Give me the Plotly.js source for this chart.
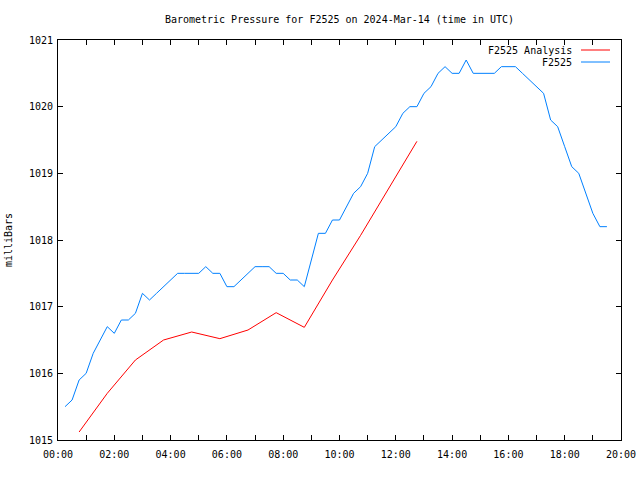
<!DOCTYPE html>
<html>
<head>
<meta charset="utf-8">
<script src="https://cdn.plot.ly/plotly-3.0.1.min.js"></script>
<style>html,body{margin:0;padding:0;background:#fff;}#chart{width:640px;height:480px;}</style>
</head>
<body>
<div id="chart"></div>
<script>
// Hours (UTC) for the F2525 observations, 15-minute steps
const obsHours = [0.25,0.5,0.75,1,1.25,1.5,1.75,2,2.25,2.5,2.75,3,3.25,3.5,3.75,4,4.25,4.5,4.75,5,5.25,5.5,5.75,6,6.25,6.5,6.75,7,7.25,7.5,7.75,8,8.25,8.5,8.75,9,9.25,9.5,9.75,10,10.25,10.5,10.75,11,11.25,11.5,11.75,12,12.25,12.5,12.75,13,13.25,13.5,13.75,14,14.25,14.5,14.75,15,15.25,15.5,15.75,16,16.25,16.5,16.75,17,17.25,17.5,17.75,18,18.25,18.5,18.75,19,19.25,19.5];
const obsPressure = [1015.5,1015.6,1015.9,1016.0,1016.3,1016.5,1016.7,1016.6,1016.8,1016.8,1016.9,1017.2,1017.1,1017.2,1017.3,1017.4,1017.5,1017.5,1017.5,1017.5,1017.6,1017.5,1017.5,1017.3,1017.3,1017.4,1017.5,1017.6,1017.6,1017.6,1017.5,1017.5,1017.4,1017.4,1017.3,1017.7,1018.1,1018.1,1018.3,1018.3,1018.5,1018.7,1018.8,1019.0,1019.4,1019.5,1019.6,1019.7,1019.9,1020.0,1020.0,1020.2,1020.3,1020.5,1020.6,1020.5,1020.5,1020.7,1020.5,1020.5,1020.5,1020.5,1020.6,1020.6,1020.6,1020.5,1020.4,1020.3,1020.2,1019.8,1019.7,1019.4,1019.1,1019.0,1018.7,1018.4,1018.2,1018.2];

// Hourly analysis values
const anaHours = [0.75,1.75,2.75,3.75,4.75,5.75,6.75,7.75,8.75,9.75,10.75,11.75,12.75];
const anaPressure = [1015.12,1015.7,1016.2,1016.5,1016.62,1016.52,1016.65,1016.91,1016.69,1017.4,1018.07,1018.77,1019.48];

// Axis ticks
const xTickVals = [0,1,2,3,4,5,6,7,8,9,10,11,12,13,14,15,16,17,18,19,20];
const xTickText = ['00:00','','02:00','','04:00','','06:00','','08:00','','10:00','','12:00','','14:00','','16:00','','18:00','','20:00'];
const yTickVals = [1015,1016,1017,1018,1019,1020,1021];

const seriesNames = ['F2525 Analysis','F2525'];
const seriesColors = ['rgb(255,0,0)','rgb(0,128,255)'];

const FONT = 'DejaVu Sans Mono, monospace';

const traces = [
  {x: anaHours, y: anaPressure, type:'scatter', mode:'lines', name: seriesNames[0],
   line:{color: seriesColors[0], width:1}, showlegend:false},
  {x: obsHours, y: obsPressure, type:'scatter', mode:'lines', name: seriesNames[1],
   line:{color: seriesColors[1], width:1}, showlegend:false}
];

const axisCommon = {
  showgrid:false, zeroline:false, showline:true, linecolor:'#000', linewidth:1,
  mirror:'ticks', ticks:'inside', ticklen:5, tickcolor:'#000', tickwidth:1,
  tickfont:{family:FONT, size:10, color:'#000'}
};

const legendShapes = [];
const legendAnn = [];
seriesNames.forEach((n,i)=>{
  const yPix = 50 + i*12;
  const yPaper = (440 - yPix)/400;
  legendAnn.push({xref:'paper', yref:'paper', x:(574-58)/563, y:yPaper, xanchor:'right', yanchor:'middle',
    text:n, showarrow:false, font:{family:FONT, size:10, color:'#000'}});
  legendShapes.push({type:'line', xref:'paper', yref:'paper', x0:(581-58)/563, x1:(610-58)/563, y0:yPaper, y1:yPaper,
    line:{color:seriesColors[i], width:1}});
});

const layout = {
  width:640, height:480,
  margin:{l:58, r:19, t:40, b:40, pad:0},
  paper_bgcolor:'#fff', plot_bgcolor:'#fff',
  title:{text:'Barometric Pressure for F2525 on 2024-Mar-14 (time in UTC)', x:0.5, xref:'paper', y:1-19/480, yanchor:'middle',
    font:{family:FONT, size:10, color:'#000'}},
  xaxis:Object.assign({}, axisCommon, {range:[0,20], tickmode:'array', tickvals:xTickVals, ticktext:xTickText, ticklabelstandoff:5}),
  yaxis:Object.assign({}, axisCommon, {range:[1015,1021], tickmode:'array', tickvals:yTickVals, ticklabelstandoff:2,
    title:{text:'milliBars', font:{family:FONT, size:10, color:'#000'}, standoff:14}}),
  shapes:legendShapes,
  annotations:legendAnn,
  showlegend:false
};

Plotly.newPlot('chart', traces, layout, {staticPlot:true, displayModeBar:false});
</script>
</body>
</html>
